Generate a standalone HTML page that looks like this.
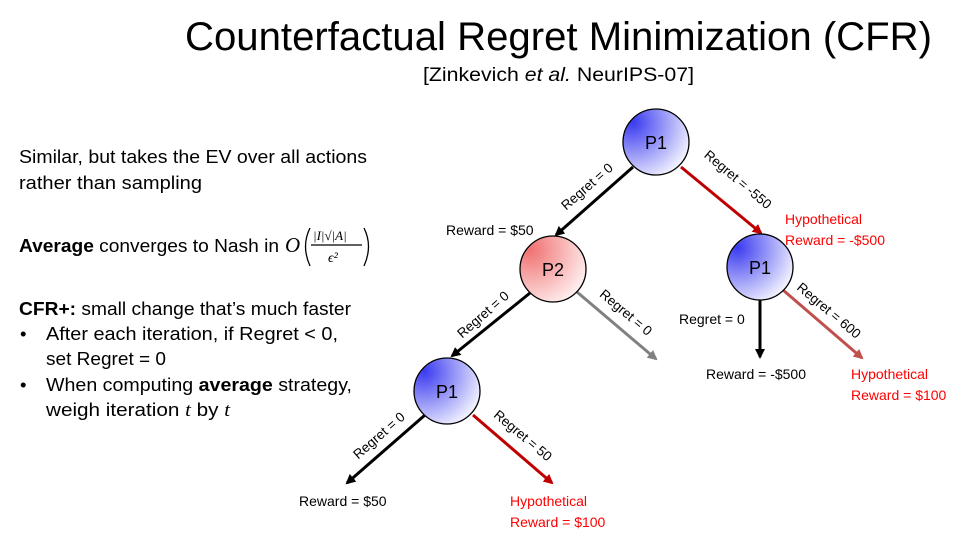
<!DOCTYPE html>
<html><head><meta charset="utf-8"><style>
html,body{margin:0;padding:0;background:#fff;}
svg{display:block;font-family:"Liberation Sans",sans-serif;}
</style></head><body>
<svg width="979" height="541" viewBox="0 0 979 541" xmlns="http://www.w3.org/2000/svg">
<defs>
<radialGradient id="gb" cx="0.15" cy="0.2" r="0.95">
<stop offset="0" stop-color="#3a3af0"/><stop offset="1" stop-color="#f4f4ff"/></radialGradient>
<radialGradient id="gr" cx="0.15" cy="0.2" r="0.95">
<stop offset="0" stop-color="#f07070"/><stop offset="1" stop-color="#fff0f0"/></radialGradient>
<marker id="ak" markerWidth="10" markerHeight="10" refX="8" refY="5" orient="auto" markerUnits="userSpaceOnUse"><path d="M0,0 L10,5 L0,10 z" fill="#000"/></marker>
<marker id="ar" markerWidth="10" markerHeight="10" refX="8" refY="5" orient="auto" markerUnits="userSpaceOnUse"><path d="M0,0 L10,5 L0,10 z" fill="#c00000"/></marker>
<marker id="ag" markerWidth="10" markerHeight="10" refX="8" refY="5" orient="auto" markerUnits="userSpaceOnUse"><path d="M0,0 L10,5 L0,10 z" fill="#808080"/></marker>
<marker id="ap" markerWidth="10" markerHeight="10" refX="8" refY="5" orient="auto" markerUnits="userSpaceOnUse"><path d="M0,0 L10,5 L0,10 z" fill="#c0504d"/></marker>
</defs>
<text x="185" y="50" font-size="40" textLength="747" lengthAdjust="spacingAndGlyphs">Counterfactual Regret Minimization (CFR)</text>
<text x="423" y="81" font-size="19" textLength="271" lengthAdjust="spacingAndGlyphs">[Zinkevich <tspan font-style="italic">et al.</tspan> NeurIPS-07]</text>

<g font-size="18.5">
<text x="19" y="163" textLength="348" lengthAdjust="spacingAndGlyphs">Similar, but takes the EV over all actions</text>
<text x="19" y="189" textLength="183" lengthAdjust="spacingAndGlyphs">rather than sampling</text>
<text x="19" y="252" textLength="260" lengthAdjust="spacingAndGlyphs"><tspan font-weight="bold">Average</tspan> converges to Nash in</text>
<text x="19" y="315" textLength="332" lengthAdjust="spacingAndGlyphs"><tspan font-weight="bold">CFR+:</tspan> small change that’s much faster</text>
<text x="20" y="340">•</text>
<text x="46" y="340" textLength="292" lengthAdjust="spacingAndGlyphs">After each iteration, if Regret &lt; 0,</text>
<text x="46" y="365" textLength="120" lengthAdjust="spacingAndGlyphs">set Regret = 0</text>
<text x="20" y="391">•</text>
<text x="46" y="391" textLength="306" lengthAdjust="spacingAndGlyphs">When computing <tspan font-weight="bold">average</tspan> strategy,</text>
<text x="46" y="416" textLength="184" lengthAdjust="spacingAndGlyphs">weigh iteration <tspan font-family="Liberation Serif" font-style="italic">t</tspan> by <tspan font-family="Liberation Serif" font-style="italic">t</tspan></text>
</g>
<!-- O formula -->
<g font-family="Liberation Serif">
<text x="285" y="252" font-size="21" font-style="italic">O</text>
<path d="M310,228 Q301,246 310,266" stroke="#000" stroke-width="1.3" fill="none"/>
<path d="M364,228 Q373,246 364,266" stroke="#000" stroke-width="1.3" fill="none"/>
<text x="313" y="240" font-size="13" font-style="italic">|I|√|A|</text>
<line x1="311" y1="245" x2="362" y2="245" stroke="#000" stroke-width="1.2"/>
<text x="328" y="262" font-size="14" font-style="italic">ϵ²</text>
</g>

<!-- edges -->
<g stroke-width="3" fill="none">
<line x1="633" y1="167" x2="556" y2="235" stroke="#000" marker-end="url(#ak)"/>
<line x1="681" y1="167" x2="761" y2="233" stroke="#c00000" marker-end="url(#ar)"/>
<line x1="530" y1="293" x2="452" y2="356" stroke="#000" marker-end="url(#ak)"/>
<line x1="577" y1="292" x2="656" y2="359" stroke="#808080" marker-end="url(#ag)"/>
<line x1="760" y1="300" x2="760" y2="357" stroke="#000" marker-end="url(#ak)"/>
<line x1="783" y1="290" x2="862" y2="358" stroke="#c0504d" marker-end="url(#ap)"/>
<line x1="425" y1="415" x2="347" y2="483" stroke="#000" marker-end="url(#ak)"/>
<line x1="473" y1="415" x2="552" y2="483" stroke="#c00000" marker-end="url(#ar)"/>
</g>

<!-- nodes -->
<g stroke="#000" stroke-width="1.3">
<circle cx="656" cy="142" r="33" fill="url(#gb)"/>
<circle cx="553" cy="269" r="33" fill="url(#gr)"/>
<circle cx="760" cy="267" r="33" fill="url(#gb)"/>
<circle cx="447" cy="391" r="33" fill="url(#gb)"/>
</g>
<g font-size="18" text-anchor="middle">
<text x="656" y="149">P1</text>
<text x="553" y="276">P2</text>
<text x="760" y="274">P1</text>
<text x="447" y="398">P1</text>
</g>

<!-- edge labels -->
<g font-size="13.5" text-anchor="middle">
<text transform="translate(590,190) rotate(-41)">Regret = 0</text>
<text transform="translate(735,183) rotate(40)">Regret = -550</text>
<text transform="translate(486,318) rotate(-41)">Regret = 0</text>
<text transform="translate(623,316) rotate(40)">Regret = 0</text>
<text transform="translate(826,314) rotate(40)">Regret = 600</text>
<text transform="translate(382,439) rotate(-41)">Regret = 0</text>
<text transform="translate(520,439) rotate(40)">Regret = 50</text>
</g>
<g font-size="14">
<text x="446" y="235">Reward = $50</text>
<text x="679" y="324">Regret = 0</text>
<text x="706" y="379">Reward = -$500</text>
<text x="299" y="506">Reward = $50</text>
<g fill="#ff0000">
<text x="785" y="224">Hypothetical</text>
<text x="785" y="245">Reward = -$500</text>
<text x="851" y="379">Hypothetical</text>
<text x="851" y="400">Reward = $100</text>
<text x="510" y="506">Hypothetical</text>
<text x="510" y="527">Reward = $100</text>
</g>
</g>
</svg>
</body></html>
